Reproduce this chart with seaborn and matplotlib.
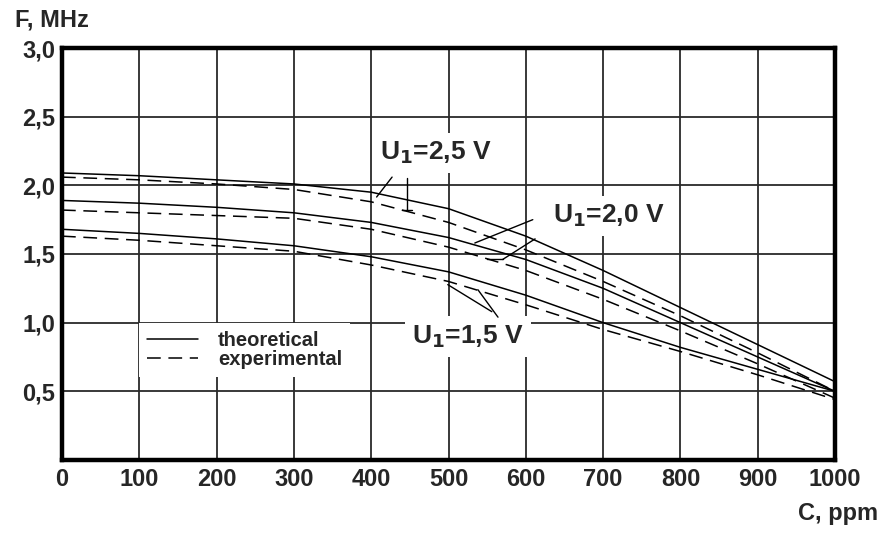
import numpy as np
import pandas as pd
import matplotlib
matplotlib.use('Agg')
import matplotlib.pyplot as plt
from matplotlib.lines import Line2D
import seaborn as sns

sns.set_theme(style='white')
plt.rcParams['font.family'] = ['Liberation Sans', 'DejaVu Sans']

# concentration, ppm
conc = [0, 100, 200, 300, 400, 500, 600, 700, 800, 900, 1000]

# frequency, MHz
theory_25 = [2.09, 2.07, 2.04, 2.01, 1.95, 1.83, 1.63, 1.38, 1.11, 0.84, 0.57]
exper_25 = [2.06, 2.04, 2.01, 1.97, 1.88, 1.73, 1.53, 1.30, 1.05, 0.78, 0.50]
theory_20 = [1.89, 1.87, 1.84, 1.80, 1.73, 1.62, 1.46, 1.25, 1.00, 0.75, 0.50]
exper_20 = [1.82, 1.80, 1.78, 1.76, 1.68, 1.55, 1.38, 1.17, 0.94, 0.70, 0.45]
theory_15 = [1.68, 1.65, 1.61, 1.56, 1.48, 1.37, 1.20, 1.00, 0.82, 0.66, 0.50]
exper_15 = [1.63, 1.60, 1.56, 1.52, 1.42, 1.30, 1.13, 0.95, 0.79, 0.62, 0.44]

x_ticks = [0, 100, 200, 300, 400, 500, 600, 700, 800, 900, 1000]
y_ticks = [0.5, 1.0, 1.5, 2.0, 2.5, 3.0]
y_tick_labels = ['0,5', '1,0', '1,5', '2,0', '2,5', '3,0']

series = {
    ('2,5', 'theoretical'): theory_25,
    ('2,5', 'experimental'): exper_25,
    ('2,0', 'theoretical'): theory_20,
    ('2,0', 'experimental'): exper_20,
    ('1,5', 'theoretical'): theory_15,
    ('1,5', 'experimental'): exper_15,
}
frames = []
for (u, kind), vals in series.items():
    frames.append(pd.DataFrame({'C': conc, 'F': vals, 'U': u, 'kind': kind}))
df = pd.concat(frames, ignore_index=True)
df['curve'] = df['U'] + ' ' + df['kind']

dash = (9, 5)

fig = plt.figure(figsize=(8.83, 5.34), dpi=100)
ax = fig.add_axes([0.0702, 0.1386, 0.8755, 0.7715])

sns.lineplot(
    data=df, x='C', y='F', units='curve', estimator=None,
    style='kind', style_order=['theoretical', 'experimental'],
    dashes={'theoretical': '', 'experimental': dash},
    color='black', linewidth=1.1, legend=False, ax=ax, zorder=3
)

ax.set_xlim(0, 1000)
ax.set_ylim(0, 3.0)
ax.set_xticks(x_ticks)
ax.set_yticks(y_ticks)
ax.set_yticklabels(y_tick_labels)
ax.tick_params(length=0, labelsize=17)
ax.tick_params(axis='x', pad=6)
ax.tick_params(axis='y', pad=5)
for t in ax.get_xticklabels() + ax.get_yticklabels():
    t.set_fontweight('bold')
ax.grid(True, color='#2a2a2a', linewidth=1.3)
ax.set_axisbelow(True)
for s in ax.spines.values():
    s.set_visible(True)
    s.set_color('black')
    s.set_linewidth(3.2)
ax.set_xlabel('')
ax.set_ylabel('')

fig.text(0.017, 0.962, 'F, MHz', fontsize=17, fontweight='bold', ha='left', va='center')
fig.text(0.994, 0.039, 'C, ppm', fontsize=17, fontweight='bold', ha='right', va='center')

box = dict(facecolor='white', edgecolor='none', pad=5)
lab = dict(fontsize=19, fontweight='bold', ha='left', va='baseline', zorder=2, bbox=box)
ax.text(411, 2.185, r'U$_\mathbf{1}$=2,5 V', **lab)
ax.text(635, 1.73, r'U$_\mathbf{1}$=2,0 V', **lab)
ax.text(453, 0.85, r'U$_\mathbf{1}$=1,5 V', **lab)

# leader lines
lk = dict(color='black', linewidth=1.0, zorder=4)
ax.plot([427, 407], [2.06, 1.915], **lk)
ax.plot([446, 446], [2.05, 1.82], **lk)
ax.plot([440, 453], [1.82, 1.82], **lk)
ax.plot([609, 534], [1.75, 1.58], **lk)
ax.plot([612, 570], [1.61, 1.46], **lk)
ax.plot([570, 550], [1.46, 1.46], **lk)
ax.plot([556, 499], [1.08, 1.277], **lk)
ax.plot([564, 538], [1.04, 1.24], **lk)

handles = [Line2D([], [], color='black', linewidth=1.1),
           Line2D([], [], color='black', linewidth=1.1, dashes=dash)]
leg = ax.legend(handles, ['theoretical', 'experimental'], loc='center left',
                bbox_to_anchor=(0.100, 0.268), borderaxespad=0, frameon=True,
                fancybox=False, handlelength=2.5, handletextpad=1.0,
                borderpad=0.4, labelspacing=0.0,
                prop={'size': 14.5, 'weight': 'bold'})
leg.get_frame().set_edgecolor('none')
leg.get_frame().set_facecolor('white')
leg.get_frame().set_alpha(1)

fig.savefig('out.png', dpi=100)
